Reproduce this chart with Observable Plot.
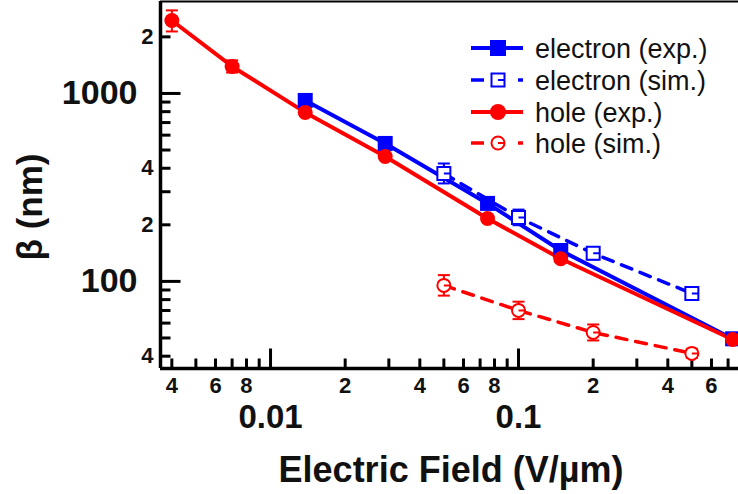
<!DOCTYPE html>
<html><head><meta charset="utf-8">
<script src="https://cdn.jsdelivr.net/npm/d3@7"></script>
<script src="https://cdn.jsdelivr.net/npm/@observablehq/plot@0.6"></script>
<style>
html,body{margin:0;padding:0;background:#fff;}
#wrap{position:relative;width:738px;height:494px;overflow:hidden;font-family:"Liberation Sans",Arial,sans-serif;}
#wrap svg{display:block;}
#overlay{position:absolute;left:0;top:0;}
</style></head><body><div id="wrap"></div>
<script>
// ---- data ----
const elecExpX  = [0.0138, 0.029, 0.075, 0.148, 0.73];
const elecExpY  = [918, 542, 260, 146, 49.5];
const elecExpLo = [895, 528, 253, 142, 48.2];
const elecExpHi = [942, 556, 267, 150, 50.8];

const elecSimX  = [0.05, 0.1, 0.2, 0.5];
const elecSimY  = [375, 219, 141, 86.3];
const elecSimLo = [332, 199, 131, 81];
const elecSimHi = [424, 241, 152, 92];

const holeExpX  = [0.004, 0.007, 0.0138, 0.029, 0.075, 0.148, 0.73];
const holeExpY  = [2445, 1392, 793, 462, 216, 132, 49.1];
const holeExpLo = [2137, 1292, 765, 446, 209, 127, 47.5];
const holeExpHi = [2767, 1500, 822, 478, 224, 137, 50.7];

const holeSimX  = [0.05, 0.1, 0.2, 0.5];
const holeSimY  = [95.2, 70.1, 53.5, 41.4];
const holeSimLo = [84, 63, 48.5, 39.2];
const holeSimHi = [108, 78, 59, 43.8];

const xMajorTicks = [0.01, 0.1];
const xMinorTicks = [0.004,0.005,0.006,0.007,0.008,0.009,0.02,0.03,0.04,0.05,0.06,0.07,0.08,0.09,0.2,0.3,0.4,0.5,0.6,0.7];
const xSmallLabelVals = [0.004,0.006,0.008,0.02,0.04,0.06,0.08,0.2,0.4,0.6];
const xSmallLabelText = ["4","6","8","2","4","6","8","2","4","6"];
const xBigLabelVals = [0.01, 0.1];
const xBigLabelText = ["0.01","0.1"];

const yMajorTicks = [100, 1000];
const yMinorTicks = [40,50,60,70,80,90,200,300,400,500,600,700,800,900,2000];
const ySmallLabelVals = [40, 200, 400, 2000];
const ySmallLabelText = ["4","2","4","2"];
const yBigLabelVals = [100, 1000];
const yBigLabelText = ["100","1000"];

const seriesNames = ["electron (exp.)","electron (sim.)","hole (exp.)","hole (sim.)"];
const BLUE = "#0000ff", RED = "#ff0000";

// ---- helpers ----
const rows = (X, Y, Lo, Hi) => X.map((x, i) => ({x, y: Y[i], lo: Lo[i], hi: Hi[i]}));
const elecExp = rows(elecExpX, elecExpY, elecExpLo, elecExpHi);
const elecSim = rows(elecSimX, elecSimY, elecSimLo, elecSimHi);
const holeExp = rows(holeExpX, holeExpY, holeExpLo, holeExpHi);
const holeSim = rows(holeSimX, holeSimY, holeSimLo, holeSimHi);

const hline = w => ({draw(c){c.moveTo(-w/2,0);c.lineTo(w/2,0);}});
const tickUp = L => ({draw(c){c.moveTo(0,0);c.lineTo(0,-L);}});
const tickRight = L => ({draw(c){c.moveTo(0,0);c.lineTo(L,0);}});
const fSquare = s => ({draw(c){c.moveTo(-s/2,-s/2);c.lineTo(s/2,-s/2);c.lineTo(s/2,s/2);c.lineTo(-s/2,s/2);c.closePath();}});
const oSquare = s => ({draw(c){c.moveTo(-s/2,-s/2);c.lineTo(s/2,-s/2);c.lineTo(s/2,s/2);c.lineTo(-s/2,s/2);c.closePath();c.moveTo(0,0);c.lineTo(s/2,0);}});
const fCircle = r => ({draw(c){c.moveTo(r,0);c.arc(0,0,r,0,2*Math.PI);}});
const oCircle = r => ({draw(c){c.moveTo(r,0);c.arc(0,0,r,0,2*Math.PI);c.moveTo(0,0);c.lineTo(r,0);}});

const errMarks = (data, color) => [
  Plot.ruleX(data, {x:"x", y1:"lo", y2:"hi", stroke:color, strokeWidth:2}),
  Plot.dot(data, {x:"x", y:"lo", symbol:hline(12), stroke:color, strokeWidth:2, fill:"none"}),
  Plot.dot(data, {x:"x", y:"hi", symbol:hline(12), stroke:color, strokeWidth:2, fill:"none"})
];

const FONT = '"Liberation Sans", Arial, sans-serif';

const chart = Plot.plot({
  width: 738, height: 494,
  marginLeft: 160, marginRight: 0, marginTop: 1, marginBottom: 126,
  x: {type: "log", domain: [0.0036, 0.771], axis: null},
  y: {type: "log", domain: [34.4, 3085], axis: null},
  style: {fontFamily: FONT, background: "white", overflow: "visible"},
  marks: [
    // frame lines
    Plot.ruleY([3085], {stroke:"#000", strokeWidth:2}),
    Plot.ruleX([0.0036], {stroke:"#000", strokeWidth:3.5}),
    Plot.ruleY([34.4], {stroke:"#000", strokeWidth:3.5}),
    // ticks (inward)
    Plot.dot(xMinorTicks, {x:d=>d, frameAnchor:"bottom", symbol:tickUp(10), stroke:"#000", strokeWidth:3, fill:"none"}),
    Plot.dot(xMajorTicks, {x:d=>d, frameAnchor:"bottom", symbol:tickUp(20), stroke:"#000", strokeWidth:3, fill:"none"}),
    Plot.dot(yMinorTicks, {y:d=>d, frameAnchor:"left", symbol:tickRight(10), stroke:"#000", strokeWidth:3, fill:"none"}),
    Plot.dot(yMajorTicks, {y:d=>d, frameAnchor:"left", symbol:tickRight(20), stroke:"#000", strokeWidth:3, fill:"none"}),
    // tick labels
    Plot.text(xSmallLabelVals, {x:d=>d, frameAnchor:"bottom", dy:24, text:(d,i)=>xSmallLabelText[i], fontSize:22, fontWeight:"bold", fill:"#111"}),
    Plot.text(xBigLabelVals, {x:d=>d, frameAnchor:"bottom", dy:59, text:(d,i)=>xBigLabelText[i], fontSize:33, fontWeight:"bold", fill:"#111"}),
    Plot.text(ySmallLabelVals, {y:d=>d, frameAnchor:"left", dx:-7, textAnchor:"end", text:(d,i)=>ySmallLabelText[i], fontSize:22, fontWeight:"bold", fill:"#111"}),
    Plot.text(yBigLabelVals, {y:d=>d, frameAnchor:"left", dx:-23, textAnchor:"end", text:(d,i)=>yBigLabelText[i], fontSize:34, fontWeight:"bold", fill:"#111"}),
    // lines
    Plot.line(elecSim, {x:"x", y:"y", stroke:BLUE, strokeWidth:3.5, strokeDasharray:"11,9"}),
    Plot.line(elecExp, {x:"x", y:"y", stroke:BLUE, strokeWidth:4}),
    Plot.line(holeSim, {x:"x", y:"y", stroke:RED, strokeWidth:3.5, strokeDasharray:"11,9"}),
    Plot.line(holeExp, {x:"x", y:"y", stroke:RED, strokeWidth:4}),
    // error bars
    ...errMarks(elecSim, BLUE),
    ...errMarks(elecExp, BLUE),
    ...errMarks(holeSim, RED),
    ...errMarks(holeExp, RED),
    // markers
    Plot.dot(elecSim, {x:"x", y:"y", symbol:oSquare(13), stroke:BLUE, strokeWidth:2, fill:"white"}),
    Plot.dot(elecExp, {x:"x", y:"y", symbol:fSquare(15), fill:BLUE, stroke:"none"}),
    Plot.dot(holeSim, {x:"x", y:"y", symbol:oCircle(6.5), stroke:RED, strokeWidth:2, fill:"white"}),
    Plot.dot(holeExp, {x:"x", y:"y", symbol:fCircle(7.5), fill:RED, stroke:"none"})
  ]
});

const wrap = document.getElementById("wrap");
wrap.appendChild(chart);

// ---- overlay: axis titles and legend ----
const NS = "http://www.w3.org/2000/svg";
const ov = document.createElementNS(NS, "svg");
ov.setAttribute("id", "overlay");
ov.setAttribute("width", 738); ov.setAttribute("height", 494);
ov.style.fontFamily = FONT;
wrap.appendChild(ov);
const el = (tag, attrs, txt) => { const e = document.createElementNS(NS, tag); for (const k in attrs) e.setAttribute(k, attrs[k]); if (txt != null) e.textContent = txt; ov.appendChild(e); return e; };

el("text", {x:451, y:482, "text-anchor":"middle", "font-size":36, "font-weight":"bold", fill:"#111"}, "Electric Field (V/µm)");
el("text", {transform:"translate(42,207) rotate(-90)", "text-anchor":"middle", "font-size":35, "font-weight":"bold", fill:"#111"}, "β (nm)");

const legY = [48, 80, 112, 143];
const legColor = [BLUE, BLUE, RED, RED];
legY.forEach((y, i) => {
  const col = legColor[i];
  const dashed = i % 2 === 1;
  if (!dashed) {
    el("line", {x1:471, x2:523, y1:y, y2:y, stroke:col, "stroke-width":4});
  } else {
    el("line", {x1:471, x2:484, y1:y, y2:y, stroke:col, "stroke-width":3.5});
    el("line", {x1:518, x2:523, y1:y, y2:y, stroke:col, "stroke-width":3.5});
  }
  if (i === 0) el("rect", {x:490, y:y-8, width:16, height:16, fill:col});
  if (i === 1) { el("rect", {x:491.5, y:y-6.5, width:13, height:13, fill:"white", stroke:col, "stroke-width":2}); el("line", {x1:498, x2:504.5, y1:y, y2:y, stroke:col, "stroke-width":2}); }
  if (i === 2) el("circle", {cx:498, cy:y, r:8, fill:col});
  if (i === 3) { el("circle", {cx:498, cy:y, r:6.5, fill:"white", stroke:col, "stroke-width":2}); el("line", {x1:498, x2:504.5, y1:y, y2:y, stroke:col, "stroke-width":2}); }
  el("text", {x:535, y:y, dy:"0.37em", "font-size":27, fill:"#111"}, seriesNames[i]);
});
</script></body></html>
